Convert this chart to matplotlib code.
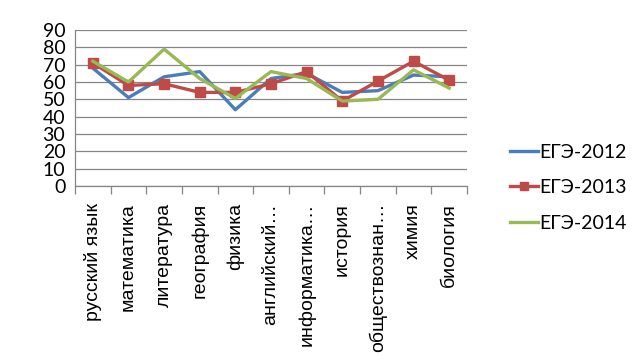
import matplotlib
matplotlib.use("Agg")
import matplotlib.pyplot as plt
import numpy as np

categories = ["русский язык", "математика", "литература", "география", "физика",
              "английский…", "информатика…", "история", "обществознан…", "химия", "биология"]
ege2012 = [68, 51, 63, 66, 44, 62, 65, 54, 55, 64, 63]
ege2013 = [71, 58, 59, 54, 54, 59, 66, 49, 60.5, 72, 61]
ege2014 = [72, 60, 79, 62, 50.5, 66, 62, 49, 50, 67, 56.5]
series_names = ["ЕГЭ-2012", "ЕГЭ-2013", "ЕГЭ-2014"]
yticks = list(range(0, 91, 10))

fig = plt.figure(figsize=(6.4, 3.6), dpi=100)
ax = fig.add_axes([75/640, 1-186/360, (467-75)/640, (186-30)/360])

x = np.arange(len(categories))
ax.plot(x, ege2012, color="#4A7EBB", lw=2.4, label=series_names[0], zorder=3)
ax.plot(x, ege2013, color="#BE4B48", lw=2.4, marker="s", ms=7, label=series_names[1], zorder=4)
ax.plot(x, ege2014, color="#98B954", lw=2.4, label=series_names[2], zorder=5)

ax.set_xlim(-0.5, len(categories)-0.5)
ax.set_ylim(0, 90)
ax.set_yticks(yticks)
ax.set_yticklabels([str(v) for v in yticks], fontfamily="Lato", fontsize=14)
ax.yaxis.grid(True, color="#868686", lw=0.9)
ax.set_axisbelow(True)
ax.tick_params(axis="y", length=0, pad=7)

ax.set_xticks(x)
ax.set_xticklabels(categories, rotation=90, fontfamily="Liberation Sans", fontsize=14,
                   va="top", ha="center")
ax.tick_params(axis="x", which="major", length=0, pad=12)
ax.set_xticks(np.arange(-0.5, len(categories), 1), minor=True)
ax.tick_params(axis="x", which="minor", length=6, color="#868686", width=0.9)

for s in ["top", "right"]:
    ax.spines[s].set_visible(False)
ax.spines["left"].set_color("#868686")
ax.spines["bottom"].set_color("#868686")
ax.spines["left"].set_linewidth(0.9)
ax.spines["bottom"].set_linewidth(0.9)

leg = fig.legend(loc="upper left", bbox_to_anchor=(502/640, 1-136/360), frameon=False,
                 prop={"family": "Lato", "size": 14}, handlelength=1.45, handletextpad=0.05,
                 labelspacing=0.95, borderaxespad=0, markerscale=0.8)

fig.savefig("out.png", dpi=100)
